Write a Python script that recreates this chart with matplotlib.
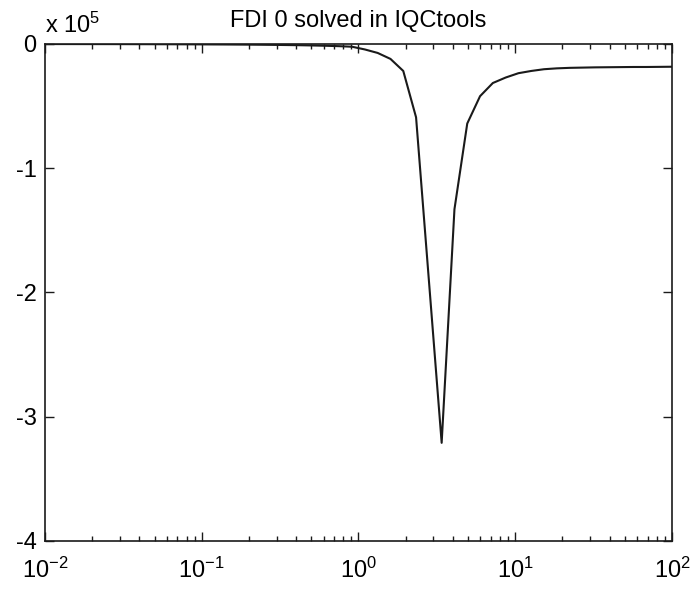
import matplotlib
matplotlib.use("Agg")
import matplotlib.pyplot as plt
from matplotlib.ticker import LogLocator, NullFormatter, FixedLocator

plt.rcParams['font.family'] = ['Liberation Sans', 'DejaVu Sans']
plt.rcParams['axes.unicode_minus'] = False
plt.rcParams['mathtext.fontset'] = 'custom'
plt.rcParams['mathtext.rm'] = 'Liberation Sans'
plt.rcParams['mathtext.it'] = 'Liberation Sans'

# frequency grid (50 log-spaced points, 1e-2 .. 1e2)
freq = [0.0100, 0.0121, 0.0146, 0.0176, 0.0212, 0.0256, 0.0309, 0.0373, 0.0450,
        0.0543, 0.0655, 0.0791, 0.0954, 0.1151, 0.1389, 0.1677, 0.2024, 0.2442,
        0.2947, 0.3556, 0.4292, 0.5179, 0.6251, 0.7543, 0.9103, 1.0985, 1.3257,
        1.5999, 1.9307, 2.3300, 2.8118, 3.3932, 4.0949, 4.9417, 5.9636, 7.1969,
        8.6851, 10.481, 12.649, 15.264, 18.421, 22.230, 26.827, 32.375, 39.069,
        47.149, 56.899, 68.665, 82.864, 100.0]
# FDI value, in units of 1e5
fdi = [-0.0005, -0.0006, -0.0007, -0.0008, -0.0009, -0.0010, -0.0012, -0.0014, -0.0016,
       -0.0019, -0.0022, -0.0026, -0.0030, -0.0035, -0.0040, -0.0046, -0.0053, -0.0062,
       -0.0072, -0.0085, -0.0100, -0.0120, -0.0145, -0.0175, -0.022, -0.044, -0.072,
       -0.120, -0.217, -0.590, -1.90, -3.21, -1.33, -0.64, -0.42, -0.314,
       -0.270, -0.235, -0.217, -0.203, -0.196, -0.192, -0.190, -0.188, -0.187,
       -0.186, -0.185, -0.185, -0.184, -0.183]

yticks = [-4, -3, -2, -1, 0]
ytick_labels = ['-4', '-3', '-2', '-1', '0']
xticks = [1e-2, 1e-1, 1e0, 1e1, 1e2]
xtick_labels = [r'$10^{-2}$', r'$10^{-1}$', r'$10^{0}$', r'$10^{1}$', r'$10^{2}$']

fig = plt.figure(figsize=(6.95, 5.89), dpi=100)
ax = fig.add_axes([0.0647, 0.0815, 0.9022, 0.8438])
ax.plot(freq, fdi, color='#1a1a1a', linewidth=1.5)
ax.set_xscale('log')
ax.set_xlim(1e-2, 1e2)
ax.set_ylim(-4, 0)
ax.yaxis.set_major_locator(FixedLocator(yticks))
ax.set_yticklabels(ytick_labels)
ax.xaxis.set_major_locator(FixedLocator(xticks))
ax.set_xticklabels(xtick_labels)
ax.xaxis.set_minor_locator(LogLocator(base=10, subs=range(2, 10), numticks=20))
ax.xaxis.set_minor_formatter(NullFormatter())
ax.tick_params(which='both', direction='in', top=True, right=True, labelsize=17,
               color='#1a1a1a', width=1.0)
ax.tick_params(which='major', length=6.5)
ax.tick_params(axis='x', which='major', pad=12)
ax.tick_params(axis='y', which='major', pad=6)
ax.tick_params(which='minor', length=3.5)
for s in ax.spines.values():
    s.set_linewidth(1.2)
    s.set_color('#1a1a1a')

ax.set_title('FDI 0 solved in IQCtools', fontsize=17, pad=12)
fig.text(0.0647, 0.935, r'x $10^5$', fontsize=17, ha='left', va='bottom')

fig.savefig('out.png', dpi=100)
